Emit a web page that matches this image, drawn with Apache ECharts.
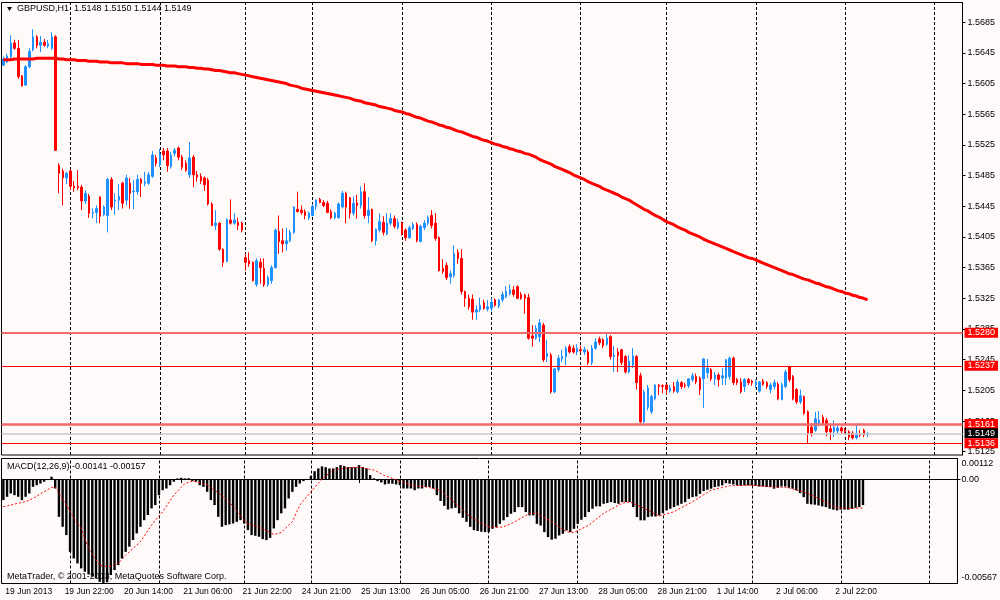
<!DOCTYPE html>
<html>
<head>
<meta charset="utf-8">
<title>GBPUSD,H1</title>
<script src="https://cdn.jsdelivr.net/npm/echarts@6.0.0/dist/echarts.min.js"></script>
<style>
html, body { margin: 0; padding: 0; background: #fffafa; }
#chart { width: 1000px; height: 600px; }
</style>
</head>
<body>
<div id="chart"></div>
<script>
// trading days shown: [day, first hour, last hour]
var days = [
    ['19 Jun', 6, 23], ['20 Jun', 0, 23], ['21 Jun', 0, 22], ['24 Jun', 6, 23],
    ['25 Jun', 0, 23], ['26 Jun', 0, 23], ['27 Jun', 0, 23], ['28 Jun', 0, 22],
    ['1 Jul', 0, 23], ['2 Jul', 0, 23], ['3 Jul', 0, 23], ['4 Jul', 0, 7]
];
var tickLabels = ['19 Jun 2013', '19 Jun 22:00', '20 Jun 14:00', '21 Jun 06:00', '21 Jun 22:00',
    '24 Jun 21:00', '25 Jun 13:00', '26 Jun 05:00', '26 Jun 21:00', '27 Jun 13:00',
    '28 Jun 05:00', '28 Jun 21:00', '1 Jul 14:00', '2 Jul 06:00', '2 Jul 22:00'];
var priceTicks = [1.5685, 1.5645, 1.5605, 1.5565, 1.5525, 1.5485, 1.5445, 1.5405,
    1.5365, 1.5325, 1.5285, 1.5245, 1.5205, 1.5165, 1.5125];
var macdTicks = [0.00112, 0, -0.00567];
var macdTickLabels = ['0.00112', '0.00', '-0.00567'];
var levels = [1.5280, 1.5237, 1.5161, 1.5149, 1.5136];

// [open, close, low, high]
var ohlc = [
    // 0
    [1.5629,1.5637,1.5628,1.5640],[1.5633,1.5641,1.5632,1.5644],[1.5640,1.5658,1.5638,1.5668],[1.5658,1.5651,1.5649,1.5662],[1.5651,1.5614,1.5611,1.5662],
    [1.5615,1.5602,1.5601,1.5616],[1.5603,1.5627,1.5602,1.5629],[1.5627,1.5647,1.5625,1.5651],[1.5649,1.5666,1.5647,1.5676],[1.5666,1.5655,1.5651,1.5668],
    // 10
    [1.5655,1.5659,1.5646,1.5667],[1.5659,1.5655,1.5653,1.5663],[1.5654,1.5657,1.5651,1.5662],[1.5651,1.5666,1.5649,1.5672],[1.5666,1.5518,1.5517,1.5668],
    [1.5498,1.5488,1.5462,1.5501],[1.5491,1.5482,1.5446,1.5494],[1.5482,1.5488,1.5474,1.5490],[1.5491,1.5471,1.5466,1.5493],[1.5471,1.5469,1.5464,1.5478],
    // 20
    [1.5471,1.5469,1.5466,1.5492],[1.5470,1.5452,1.5440,1.5473],[1.5452,1.5462,1.5448,1.5466],[1.5458,1.5436,1.5430,1.5461],[1.5436,1.5437,1.5429,1.5442],
    [1.5437,1.5442,1.5423,1.5446],[1.5457,1.5432,1.5423,1.5458],[1.5434,1.5444,1.5432,1.5446],[1.5433,1.5480,1.5411,1.5482],[1.5480,1.5444,1.5440,1.5483],
    // 30
    [1.5452,1.5453,1.5434,1.5462],[1.5453,1.5458,1.5440,1.5474],[1.5475,1.5449,1.5442,1.5477],[1.5453,1.5482,1.5446,1.5486],[1.5475,1.5462,1.5442,1.5482],
    [1.5464,1.5465,1.5441,1.5479],[1.5464,1.5480,1.5460,1.5486],[1.5480,1.5475,1.5457,1.5482],[1.5475,1.5477,1.5471,1.5490],[1.5475,1.5486,1.5473,1.5490],
    // 40
    [1.5484,1.5512,1.5482,1.5517],[1.5508,1.5501,1.5497,1.5512],[1.5499,1.5513,1.5496,1.5520],[1.5517,1.5512,1.5505,1.5521],[1.5517,1.5498,1.5490,1.5521],
    [1.5497,1.5512,1.5494,1.5516],[1.5514,1.5518,1.5510,1.5521],[1.5521,1.5509,1.5505,1.5523],[1.5509,1.5496,1.5492,1.5512],[1.5501,1.5492,1.5490,1.5505],
    // 50
    [1.5486,1.5508,1.5482,1.5529],[1.5509,1.5486,1.5470,1.5512],[1.5486,1.5483,1.5477,1.5491],[1.5484,1.5478,1.5474,1.5488],[1.5482,1.5473,1.5465,1.5484],
    [1.5479,1.5448,1.5446,1.5482],[1.5448,1.5420,1.5419,1.5450],[1.5420,1.5423,1.5414,1.5440],[1.5423,1.5389,1.5387,1.5424],[1.5389,1.5372,1.5366,1.5390],
    // 60
    [1.5373,1.5428,1.5372,1.5429],[1.5427,1.5423,1.5421,1.5454],[1.5423,1.5427,1.5421,1.5436],[1.5424,1.5420,1.5414,1.5430],[1.5423,1.5414,1.5411,1.5425],
    [1.5378,1.5372,1.5361,1.5383],[1.5374,1.5370,1.5366,1.5385],[1.5372,1.5348,1.5347,1.5373],[1.5343,1.5374,1.5340,1.5377],[1.5372,1.5365,1.5344,1.5377],
    // 70
    [1.5364,1.5343,1.5340,1.5377],[1.5343,1.5352,1.5340,1.5355],[1.5348,1.5365,1.5344,1.5368],[1.5365,1.5414,1.5364,1.5416],[1.5412,1.5399,1.5383,1.5433],
    [1.5400,1.5396,1.5385,1.5416],[1.5396,1.5400,1.5387,1.5417],[1.5400,1.5411,1.5398,1.5414],[1.5411,1.5444,1.5409,1.5445],[1.5441,1.5438,1.5437,1.5464],
    // 80
    [1.5440,1.5437,1.5434,1.5446],[1.5438,1.5433,1.5428,1.5441],[1.5430,1.5436,1.5427,1.5438],[1.5433,1.5445,1.5432,1.5448],[1.5445,1.5453,1.5440,1.5454],
    [1.5454,1.5450,1.5449,1.5456],[1.5450,1.5446,1.5444,1.5453],[1.5449,1.5437,1.5436,1.5452],[1.5438,1.5430,1.5428,1.5441],[1.5430,1.5436,1.5428,1.5438],
    // 90
    [1.5430,1.5448,1.5429,1.5450],[1.5444,1.5462,1.5442,1.5465],[1.5462,1.5444,1.5423,1.5464],[1.5456,1.5436,1.5429,1.5457],[1.5436,1.5449,1.5433,1.5458],
    [1.5449,1.5446,1.5429,1.5460],[1.5446,1.5464,1.5442,1.5471],[1.5464,1.5433,1.5429,1.5475],[1.5433,1.5440,1.5423,1.5457],[1.5441,1.5400,1.5398,1.5442],
    // 100
    [1.5400,1.5415,1.5394,1.5416],[1.5414,1.5425,1.5411,1.5436],[1.5424,1.5411,1.5407,1.5432],[1.5409,1.5423,1.5407,1.5436],[1.5423,1.5429,1.5420,1.5436],
    [1.5429,1.5419,1.5416,1.5433],[1.5417,1.5424,1.5415,1.5429],[1.5423,1.5409,1.5407,1.5425],[1.5414,1.5404,1.5400,1.5416],[1.5404,1.5417,1.5403,1.5420],
    // 110
    [1.5416,1.5421,1.5414,1.5424],[1.5421,1.5400,1.5398,1.5424],[1.5399,1.5419,1.5398,1.5421],[1.5417,1.5423,1.5414,1.5427],[1.5423,1.5430,1.5420,1.5433],
    [1.5433,1.5420,1.5416,1.5440],[1.5423,1.5403,1.5400,1.5436],[1.5404,1.5361,1.5360,1.5406],[1.5364,1.5360,1.5357,1.5376],[1.5368,1.5352,1.5349,1.5372],
    // 120
    [1.5353,1.5357,1.5344,1.5361],[1.5355,1.5383,1.5352,1.5394],[1.5385,1.5377,1.5370,1.5389],[1.5377,1.5334,1.5330,1.5389],[1.5334,1.5325,1.5314,1.5335],
    [1.5325,1.5314,1.5310,1.5330],[1.5324,1.5307,1.5297,1.5330],[1.5307,1.5310,1.5297,1.5316],[1.5310,1.5316,1.5307,1.5326],[1.5319,1.5312,1.5310,1.5323],
    // 130
    [1.5311,1.5314,1.5308,1.5323],[1.5312,1.5320,1.5308,1.5325],[1.5323,1.5316,1.5314,1.5325],[1.5315,1.5323,1.5312,1.5324],[1.5323,1.5330,1.5320,1.5334],
    [1.5327,1.5334,1.5325,1.5341],[1.5331,1.5336,1.5329,1.5343],[1.5336,1.5330,1.5327,1.5341],[1.5340,1.5325,1.5324,1.5342],[1.5330,1.5325,1.5323,1.5333],
    // 140
    [1.5329,1.5325,1.5305,1.5331],[1.5326,1.5273,1.5271,1.5331],[1.5276,1.5273,1.5262,1.5290],[1.5273,1.5286,1.5271,1.5290],[1.5275,1.5293,1.5268,1.5298],
    [1.5290,1.5245,1.5242,1.5293],[1.5249,1.5253,1.5242,1.5271],[1.5251,1.5203,1.5201,1.5254],[1.5203,1.5233,1.5201,1.5234],[1.5232,1.5247,1.5229,1.5251],
    // 150
    [1.5246,1.5249,1.5242,1.5258],[1.5249,1.5260,1.5238,1.5263],[1.5262,1.5255,1.5253,1.5265],[1.5260,1.5255,1.5253,1.5264],[1.5255,1.5260,1.5251,1.5265],
    [1.5258,1.5257,1.5254,1.5263],[1.5255,1.5258,1.5251,1.5262],[1.5255,1.5241,1.5238,1.5258],[1.5241,1.5260,1.5238,1.5264],[1.5260,1.5268,1.5258,1.5273],
    // 160
    [1.5272,1.5267,1.5264,1.5275],[1.5271,1.5263,1.5260,1.5273],[1.5265,1.5273,1.5263,1.5279],[1.5275,1.5249,1.5245,1.5277],[1.5249,1.5251,1.5229,1.5263],
    [1.5255,1.5250,1.5229,1.5260],[1.5258,1.5241,1.5238,1.5259],[1.5249,1.5229,1.5227,1.5251],[1.5229,1.5243,1.5227,1.5251],[1.5238,1.5250,1.5234,1.5260],
    // 170
    [1.5249,1.5215,1.5206,1.5251],[1.5224,1.5164,1.5162,1.5228],[1.5164,1.5203,1.5162,1.5206],[1.5183,1.5208,1.5179,1.5212],[1.5177,1.5197,1.5174,1.5199],
    [1.5194,1.5212,1.5192,1.5213],[1.5212,1.5210,1.5199,1.5213],[1.5211,1.5210,1.5201,1.5213],[1.5212,1.5206,1.5199,1.5213],[1.5204,1.5208,1.5202,1.5212],
    // 180
    [1.5210,1.5204,1.5202,1.5216],[1.5203,1.5216,1.5201,1.5219],[1.5215,1.5210,1.5207,1.5217],[1.5212,1.5211,1.5208,1.5215],[1.5211,1.5220,1.5208,1.5221],
    [1.5219,1.5224,1.5216,1.5228],[1.5223,1.5216,1.5213,1.5227],[1.5221,1.5206,1.5199,1.5223],[1.5220,1.5246,1.5182,1.5247],[1.5228,1.5234,1.5221,1.5246],
    // 190
    [1.5232,1.5220,1.5217,1.5234],[1.5220,1.5225,1.5212,1.5229],[1.5225,1.5219,1.5210,1.5228],[1.5221,1.5224,1.5212,1.5234],[1.5221,1.5245,1.5212,1.5246],
    [1.5223,1.5247,1.5219,1.5249],[1.5247,1.5215,1.5212,1.5249],[1.5219,1.5215,1.5212,1.5221],[1.5216,1.5203,1.5201,1.5221],[1.5210,1.5219,1.5203,1.5221],
    // 200
    [1.5219,1.5215,1.5212,1.5221],[1.5217,1.5215,1.5211,1.5219],[1.5212,1.5216,1.5208,1.5219],[1.5204,1.5216,1.5202,1.5217],[1.5217,1.5213,1.5211,1.5220],
    [1.5215,1.5210,1.5207,1.5217],[1.5206,1.5212,1.5201,1.5215],[1.5210,1.5215,1.5206,1.5219],[1.5213,1.5194,1.5192,1.5216],[1.5193,1.5212,1.5192,1.5215],
    // 210
    [1.5210,1.5229,1.5208,1.5232],[1.5236,1.5219,1.5216,1.5237],[1.5223,1.5194,1.5192,1.5225],[1.5206,1.5190,1.5187,1.5208],[1.5190,1.5198,1.5187,1.5206],
    [1.5197,1.5175,1.5173,1.5198],[1.5177,1.5149,1.5136,1.5179],[1.5157,1.5149,1.5145,1.5162],[1.5153,1.5168,1.5151,1.5177],[1.5162,1.5166,1.5158,1.5178],
    // 220
    [1.5170,1.5162,1.5160,1.5173],[1.5166,1.5151,1.5145,1.5169],[1.5155,1.5151,1.5140,1.5160],[1.5151,1.5157,1.5144,1.5166],[1.5152,1.5156,1.5148,1.5160],
    [1.5156,1.5152,1.5148,1.5158],[1.5153,1.5151,1.5148,1.5156],[1.5151,1.5144,1.5140,1.5153],[1.5149,1.5143,1.5141,1.5152],[1.5143,1.5148,1.5141,1.5162],
    // 230
    [1.5148,1.5147,1.5144,1.5153],[1.5153,1.5147,1.5144,1.5155],[1.5148,1.5149,1.5144,1.5150]
];

var ma = [
    1.5636,1.5636,1.5636,1.5637,1.5637,1.5637,1.5637,1.5637,1.5637,1.5638,
    1.5638,1.5638,1.5638,1.5638,1.5638,1.5637,1.5637,1.5636,1.5636,1.5636,
    1.5635,1.5635,1.5635,1.5634,1.5634,1.5634,1.5633,1.5633,1.5633,1.5632,
    1.5632,1.5632,1.5632,1.5631,1.5631,1.5631,1.5631,1.5630,1.5630,1.5630,
    1.5630,1.5629,1.5629,1.5629,1.5628,1.5628,1.5628,1.5627,1.5627,1.5627,
    1.5626,1.5626,1.5625,1.5625,1.5624,1.5624,1.5623,1.5622,1.5622,1.5621,
    1.5620,1.5619,1.5619,1.5618,1.5617,1.5616,1.5615,1.5614,1.5613,1.5612,
    1.5611,1.5610,1.5609,1.5608,1.5607,1.5606,1.5605,1.5603,1.5602,1.5601,
    1.5599,1.5598,1.5597,1.5596,1.5595,1.5594,1.5593,1.5592,1.5591,1.5590,
    1.5589,1.5588,1.5587,1.5586,1.5584,1.5583,1.5582,1.5580,1.5579,1.5578,
    1.5577,1.5575,1.5574,1.5573,1.5572,1.5570,1.5569,1.5568,1.5566,1.5565,
    1.5563,1.5561,1.5560,1.5558,1.5556,1.5555,1.5553,1.5551,1.5550,1.5548,
    1.5547,1.5545,1.5543,1.5542,1.5540,1.5538,1.5536,1.5535,1.5533,1.5531,
    1.5530,1.5528,1.5526,1.5525,1.5523,1.5522,1.5520,1.5519,1.5517,1.5516,
    1.5514,1.5513,1.5511,1.5509,1.5506,1.5504,1.5502,1.5500,1.5497,1.5495,
    1.5493,1.5491,1.5489,1.5486,1.5484,1.5482,1.5480,1.5477,1.5475,1.5473,
    1.5471,1.5468,1.5466,1.5464,1.5462,1.5460,1.5457,1.5455,1.5453,1.5450,
    1.5447,1.5444,1.5441,1.5439,1.5436,1.5433,1.5431,1.5428,1.5425,1.5423,
    1.5421,1.5418,1.5416,1.5414,1.5411,1.5409,1.5407,1.5405,1.5402,1.5400,
    1.5398,1.5396,1.5394,1.5392,1.5390,1.5388,1.5386,1.5384,1.5382,1.5380,
    1.5378,1.5377,1.5375,1.5373,1.5371,1.5369,1.5367,1.5365,1.5363,1.5361,
    1.5359,1.5357,1.5356,1.5354,1.5352,1.5350,1.5349,1.5347,1.5345,1.5344,
    1.5342,1.5340,1.5339,1.5337,1.5335,1.5334,1.5332,1.5331,1.5329,1.5328,
    1.5326,1.5325,1.5323
];

var macd = [
    -0.00114,-0.00096,-0.00078,-0.00087,-0.00096,-0.00114,-0.00096,-0.00078,-0.00042,-0.00033,
    -0.00024,-0.00014,-0.00005,0.00013,-0.00051,-0.00205,-0.00259,-0.00304,-0.00395,-0.00431,
    -0.00458,-0.00485,-0.00503,-0.00518,-0.00530,-0.00539,-0.00558,-0.00567,-0.00560,-0.00521,
    -0.00494,-0.00467,-0.00431,-0.00395,-0.00367,-0.00331,-0.00295,-0.00259,-0.00223,-0.00195,
    -0.00159,-0.00141,-0.00087,-0.00060,-0.00051,-0.00033,-0.00014,0.00004,0.00007,0.00004,
    0.00005,-0.00011,-0.00014,-0.00033,-0.00042,-0.00069,-0.00114,-0.00141,-0.00205,-0.00259,
    -0.00250,-0.00246,-0.00241,-0.00232,-0.00223,-0.00241,-0.00277,-0.00304,-0.00308,-0.00313,
    -0.00326,-0.00331,-0.00319,-0.00268,-0.00223,-0.00186,-0.00159,-0.00105,-0.00069,-0.00042,
    -0.00024,-0.00011,-0.00004,0.00018,0.00043,0.00058,0.00069,0.00065,0.00058,0.00058,
    0.00065,0.00076,0.00071,0.00065,0.00065,0.00065,0.00076,0.00065,0.00058,0.00022,
    0.00004,-0.00011,-0.00018,-0.00029,-0.00025,-0.00025,-0.00029,-0.00033,-0.00051,-0.00051,
    -0.00051,-0.00060,-0.00051,-0.00051,-0.00043,-0.00043,-0.00051,-0.00087,-0.00119,-0.00145,
    -0.00165,-0.00159,-0.00156,-0.00186,-0.00210,-0.00232,-0.00259,-0.00277,-0.00282,-0.00286,
    -0.00288,-0.00288,-0.00270,-0.00261,-0.00243,-0.00224,-0.00206,-0.00188,-0.00179,-0.00152,
    -0.00152,-0.00179,-0.00197,-0.00197,-0.00243,-0.00252,-0.00288,-0.00315,-0.00329,-0.00324,
    -0.00306,-0.00297,-0.00279,-0.00288,-0.00270,-0.00243,-0.00221,-0.00206,-0.00179,-0.00161,
    -0.00148,-0.00148,-0.00134,-0.00130,-0.00125,-0.00130,-0.00134,-0.00125,-0.00125,-0.00125,
    -0.00152,-0.00206,-0.00224,-0.00224,-0.00206,-0.00203,-0.00203,-0.00197,-0.00185,-0.00170,
    -0.00161,-0.00152,-0.00143,-0.00134,-0.00125,-0.00107,-0.00098,-0.00094,-0.00080,-0.00065,
    -0.00058,-0.00052,-0.00043,-0.00040,-0.00034,-0.00022,-0.00025,-0.00029,-0.00034,-0.00036,
    -0.00034,-0.00034,-0.00034,-0.00036,-0.00040,-0.00040,-0.00043,-0.00043,-0.00052,-0.00047,
    -0.00040,-0.00040,-0.00047,-0.00052,-0.00061,-0.00076,-0.00098,-0.00134,-0.00137,-0.00139,
    -0.00143,-0.00148,-0.00152,-0.00161,-0.00166,-0.00170,-0.00166,-0.00166,-0.00166,-0.00161,
    -0.00156,-0.00152,-0.00141
];

var signal = [
    -0.00150,-0.00146,-0.00141,-0.00136,-0.00131,-0.00127,-0.00122,-0.00115,-0.00104,-0.00093,
    -0.00080,-0.00068,-0.00056,-0.00046,-0.00042,-0.00075,-0.00110,-0.00141,-0.00175,-0.00210,
    -0.00240,-0.00268,-0.00322,-0.00376,-0.00410,-0.00440,-0.00467,-0.00472,-0.00476,-0.00472,
    -0.00465,-0.00458,-0.00436,-0.00413,-0.00395,-0.00377,-0.00358,-0.00340,-0.00310,-0.00280,
    -0.00250,-0.00225,-0.00200,-0.00177,-0.00147,-0.00117,-0.00087,-0.00066,-0.00045,-0.00024,
    -0.00017,-0.00011,-0.00015,-0.00020,-0.00025,-0.00029,-0.00045,-0.00060,-0.00075,-0.00090,
    -0.00105,-0.00125,-0.00148,-0.00172,-0.00198,-0.00225,-0.00241,-0.00248,-0.00254,-0.00259,
    -0.00270,-0.00280,-0.00290,-0.00300,-0.00296,-0.00290,-0.00270,-0.00250,-0.00232,-0.00186,
    -0.00141,-0.00117,-0.00093,-0.00069,-0.00046,-0.00023,0.00000,0.00016,0.00033,0.00049,
    0.00053,0.00056,0.00059,0.00062,0.00063,0.00064,0.00065,0.00061,0.00057,0.00053,
    0.00049,0.00039,0.00029,0.00018,0.00011,0.00004,-0.00004,-0.00011,-0.00017,-0.00024,
    -0.00030,-0.00036,-0.00038,-0.00040,-0.00042,-0.00046,-0.00051,-0.00056,-0.00060,-0.00078,
    -0.00096,-0.00114,-0.00132,-0.00150,-0.00168,-0.00187,-0.00205,-0.00216,-0.00228,-0.00239,
    -0.00250,-0.00259,-0.00261,-0.00262,-0.00261,-0.00259,-0.00250,-0.00241,-0.00232,-0.00220,
    -0.00209,-0.00198,-0.00186,-0.00186,-0.00186,-0.00198,-0.00209,-0.00220,-0.00232,-0.00246,
    -0.00260,-0.00273,-0.00286,-0.00288,-0.00290,-0.00280,-0.00270,-0.00260,-0.00250,-0.00234,
    -0.00218,-0.00202,-0.00186,-0.00175,-0.00164,-0.00153,-0.00142,-0.00132,-0.00127,-0.00123,
    -0.00132,-0.00141,-0.00150,-0.00159,-0.00170,-0.00180,-0.00191,-0.00201,-0.00195,-0.00189,
    -0.00183,-0.00177,-0.00166,-0.00155,-0.00145,-0.00134,-0.00123,-0.00110,-0.00098,-0.00085,
    -0.00073,-0.00060,-0.00055,-0.00050,-0.00046,-0.00041,-0.00036,-0.00035,-0.00035,-0.00034,
    -0.00034,-0.00033,-0.00033,-0.00035,-0.00037,-0.00038,-0.00040,-0.00042,-0.00043,-0.00044,
    -0.00045,-0.00046,-0.00047,-0.00053,-0.00059,-0.00066,-0.00072,-0.00078,-0.00087,-0.00096,
    -0.00105,-0.00114,-0.00125,-0.00135,-0.00146,-0.00156,-0.00157,-0.00158,-0.00159,-0.00159,
    -0.00158,-0.00158,-0.00157
];

// hourly categories and the first bar of every day
var categories = [];
var dayStarts = [];
days.forEach(function (d, k) {
    if (k > 0) dayStarts.push(categories.length);
    for (var h = d[1]; h <= d[2]; h++) {
        categories.push(d[0] + ' ' + (h < 10 ? '0' : '') + h + ':00');
    }
});

var FONT = 'Liberation Sans';
var tickStep = 16;
function isTick(i) { return i % tickStep === 0 && i / tickStep < tickLabels.length; }

function dayLines() {
    return {
        symbol: 'none', silent: true, z: 1, animation: false,
        label: { show: false },
        lineStyle: { color: '#000', type: [3, 2], width: 1 },
        data: dayStarts.map(function (i) { return { xAxis: categories[i] }; })
    };
}

var levelStyles = [
    { line: '#f46a6a', width: 2, tag: '#ff0000' },
    { line: '#ff0000', width: 1, tag: '#ff0000' },
    { line: '#f46a6a', width: 2.5, tag: '#ff0000' },
    { line: '#c8c8c8', width: 1.5, tag: '#000000' },
    { line: '#ff0000', width: 1, tag: '#ff0000' }
];

var dom = document.getElementById('chart');
var myChart = echarts.init(dom);
var option = {
    animation: false,
    backgroundColor: '#fffafa',
    textStyle: { fontFamily: FONT },
    grid: [
        { left: 1.5, right: 37.5, top: 2.5, height: 452.5, show: true, borderColor: '#000', borderWidth: 1, backgroundColor: '#fffafa' },
        { left: 1.5, right: 37.5, top: 458.5, height: 125, show: true, borderColor: '#000', borderWidth: 1, backgroundColor: '#fffafa' }
    ],
    xAxis: [
        {
            type: 'category', gridIndex: 0, data: categories, boundaryGap: true,
            axisLine: { show: false }, axisTick: { show: false }, axisLabel: { show: false }, splitLine: { show: false }
        },
        {
            type: 'category', gridIndex: 1, data: categories, boundaryGap: true,
            axisLine: { show: true, lineStyle: { color: '#000' } },
            axisTick: { show: true, interval: isTick, alignWithLabel: true, length: 4, lineStyle: { color: '#000' } },
            axisLabel: {
                interval: isTick, align: 'left', margin: 4, fontSize: 8.5, color: '#000', fontFamily: FONT,
                padding: [0, 0, 0, 2],
                formatter: function (v, i) { return tickLabels[i / tickStep] || ''; }
            },
            splitLine: { show: false }
        }
    ],
    yAxis: [
        {
            type: 'value', gridIndex: 0, position: 'right', min: 1.51207, max: 1.57107,
            splitLine: { show: false },
            axisLine: { show: true, lineStyle: { color: '#000' } },
            axisTick: { show: true, length: 3, customValues: priceTicks, lineStyle: { color: '#000' } },
            axisLabel: {
                customValues: priceTicks, margin: 5, fontSize: 9, color: '#000', fontFamily: FONT,
                formatter: function (v) { return v.toFixed(4); }
            }
        },
        {
            type: 'value', gridIndex: 1, position: 'right', min: -0.00567, max: 0.00112,
            splitLine: { show: false },
            axisLine: { show: true, lineStyle: { color: '#000' } },
            axisTick: { show: true, length: 3, customValues: [0], lineStyle: { color: '#000' } },
            axisLabel: {
                customValues: macdTicks, margin: 4, fontSize: 9, color: '#000', fontFamily: FONT,
                formatter: function (v) {
                    var k = macdTicks.indexOf(v);
                    if (k === 0) return '{t|' + macdTickLabels[k] + '}';
                    if (k === 2) return '{b|' + macdTickLabels[k] + '}';
                    return macdTickLabels[k] || '';
                },
                rich: {
                    t: { fontSize: 9, fontFamily: FONT, color: '#000', padding: [11, 0, 0, 0] },
                    b: { fontSize: 9, fontFamily: FONT, color: '#000', padding: [0, 0, 12, 0] }
                }
            }
        }
    ],
    series: [
        {
            name: 'GBPUSD', type: 'candlestick', xAxisIndex: 0, yAxisIndex: 0,
            data: ohlc, barWidth: 2,
            itemStyle: { color: '#1e90ff', color0: '#ff0000', borderColor: '#1e90ff', borderColor0: '#ff0000', borderWidth: 1 },
            markLine: dayLines()
        },
        {
            name: 'MA', type: 'line', xAxisIndex: 0, yAxisIndex: 0, data: ma,
            symbol: 'none', lineStyle: { color: '#ff0000', width: 3 },
            markLine: {
                symbol: 'none', silent: true, animation: false, precision: 5,
                data: levels.map(function (p, k) {
                    var s = levelStyles[k];
                    return {
                        yAxis: p,
                        lineStyle: { color: s.line, width: s.width, type: 'solid' },
                        label: {
                            show: true, position: 'end', distance: 2, formatter: p.toFixed(4),
                            color: '#fff', backgroundColor: s.tag, padding: [1, 3, 0, 3],
                            fontSize: 9, fontFamily: FONT
                        }
                    };
                })
            }
        },
        {
            name: 'MACD', type: 'bar', xAxisIndex: 1, yAxisIndex: 1, data: macd,
            barWidth: 2.4, itemStyle: { color: '#000' },
            markLine: dayLines()
        },
        {
            name: 'Signal', type: 'line', xAxisIndex: 1, yAxisIndex: 1, data: signal,
            symbol: 'none', lineStyle: { color: '#ff0000', width: 1, type: [2, 2] }
        }
    ],
    graphic: [
        { type: 'polygon', z: 100, shape: { points: [[7, 7], [12, 7], [9.5, 11]] }, style: { fill: '#000' } },
        { type: 'text', z: 100, left: 17, top: 4, style: { text: 'GBPUSD,H1  1.5148 1.5150 1.5144 1.5149', fontSize: 9, fontFamily: FONT, fill: '#000' } },
        { type: 'text', z: 100, left: 7, top: 462, style: { text: 'MACD(12,26,9) -0.00141 -0.00157', fontSize: 9, fontFamily: FONT, fill: '#000' } },
        { type: 'text', z: 100, left: 7, top: 572, style: { text: 'MetaTrader, \u00a9 2001-2013, MetaQuotes Software Corp.', fontSize: 9, fontFamily: FONT, fill: '#000' } }
    ]
};
if (option && typeof option === 'object') {
    myChart.setOption(option, true);
}
</script>
</body>
</html>
